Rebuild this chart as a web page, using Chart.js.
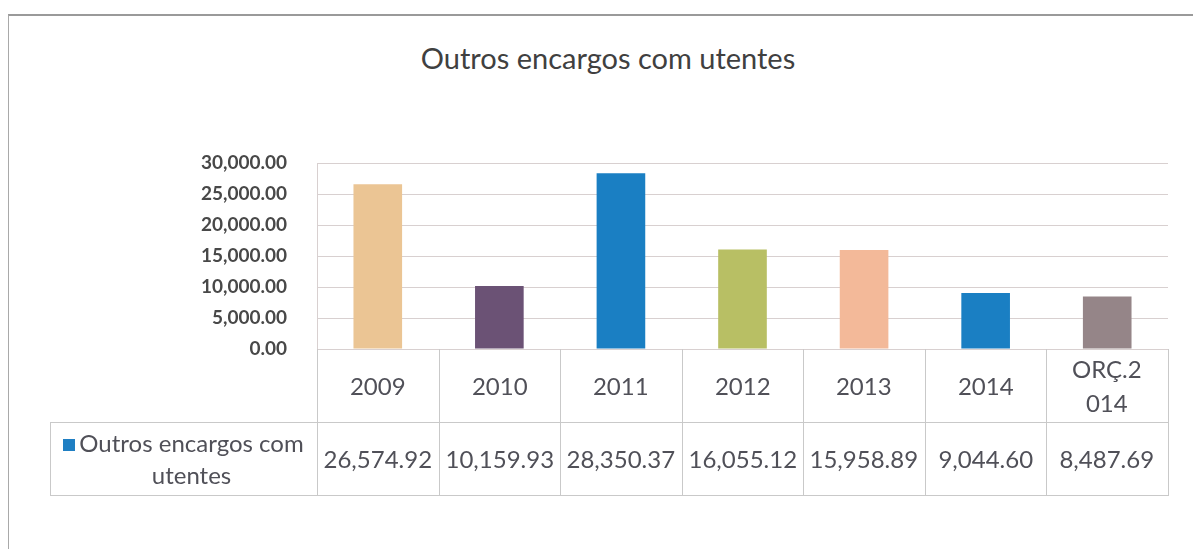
<!DOCTYPE html>
<html>
<head>
<meta charset="utf-8">
<script src="https://cdn.jsdelivr.net/npm/chart.js@4"></script>
<style>
  body { margin: 0; background: #fff; }
  #wrap { position: relative; width: 1193px; height: 549px; overflow: hidden; background: #fff; font-family: Lato, sans-serif; }
  #frame { position: absolute; left: 8px; top: 14px; right: -5px; bottom: -5px; border-left: 1px solid #a9a9a9; border-top: 2px solid #9a9a9a; }
  #title { position: absolute; left: 358px; width: 500px; top: 40px; text-align: center; font-size: 29px; color: #404040; }
  canvas { position: absolute; left: 0; top: 0; }
  .cell { position: absolute; box-sizing: border-box; display: flex; align-items: center; justify-content: center; text-align: center; color: #505058; font-size: 24px; }
  .line { position: absolute; background: #c9c9c9; }
</style>
</head>
<body>
<div id="wrap">
  <div id="frame"></div>
  <div id="title">Outros encargos com utentes</div>
  <canvas id="myChart" width="1193" height="549"></canvas>
</div>
<script>
const seriesName = 'Outros encargos com utentes';
const categories = ['2009', '2010', '2011', '2012', '2013', '2014', 'ORÇ.2014'];
const categoryLines = [['2009'], ['2010'], ['2011'], ['2012'], ['2013'], ['2014'], ['ORÇ.2', '014']];
const values = [26574.92, 10159.93, 28350.37, 16055.12, 15958.89, 9044.60, 8487.69];
const barColors = ['#ebc594', '#6b5275', '#1a7fc3', '#b8bf64', '#f3b999', '#1a7fc3', '#958588'];
const yTicks = [0, 5000, 10000, 15000, 20000, 25000, 30000];

const fmt = v => v.toLocaleString('en-US', { minimumFractionDigits: 2, maximumFractionDigits: 2 });

const ctx = document.getElementById('myChart');
const chart = new Chart(ctx, {
    type: 'bar',
    data: {
        labels: categories,
        datasets: [{
            label: seriesName,
            data: values,
            backgroundColor: barColors,
            borderWidth: 0,
            categoryPercentage: 1,
            barPercentage: 0.4
        }]
    },
    options: {
        responsive: false,
        animation: false,
        layout: { padding: { left: 0, right: 25, top: 163, bottom: 200 } },
        plugins: { legend: { display: false }, title: { display: false }, tooltip: { enabled: false } },
        scales: {
            x: { display: false },
            y: {
                min: 0,
                max: 30000,
                afterFit: s => { s.width = 317; },
                afterBuildTicks: s => { s.ticks = yTicks.map(v => ({ value: v })); },
                grid: { color: '#d8d0d0', drawTicks: false },
                border: { color: '#d8d0d0' },
                ticks: {
                    padding: 30,
                    color: '#484848',
                    font: { family: 'Lato', size: 19, weight: 'bold' },
                    callback: v => fmt(v)
                }
            }
        }
    }
});

// data table under the plot, columns taken from the x scale
const wrap = document.getElementById('wrap');
const xs = chart.scales.x;
const area = chart.chartArea;
const colW = (xs.right - xs.left) / categories.length;
const rowTop = area.bottom, rowMid = rowTop + 73, rowBot = rowMid + 73;
const legLeft = 50;

function addLine(x, y, w, h) {
    const d = document.createElement('div');
    d.className = 'line';
    d.style.left = x + 'px'; d.style.top = y + 'px';
    d.style.width = w + 'px'; d.style.height = h + 'px';
    wrap.appendChild(d);
}
function addCell(x, y, w, h, html, extra) {
    const d = document.createElement('div');
    d.className = 'cell';
    d.style.left = x + 'px'; d.style.top = y + 'px';
    d.style.width = w + 'px'; d.style.height = h + 'px';
    d.innerHTML = html;
    if (extra) Object.assign(d.style, extra);
    wrap.appendChild(d);
}

categories.forEach((c, i) => {
    const cx = xs.getPixelForValue(i);
    const x0 = Math.round(cx - colW / 2);
    addCell(x0, rowTop, colW, rowMid - rowTop, categoryLines[i].join('<br>'), { lineHeight: '34px' });
    addCell(x0, rowMid, colW, rowBot - rowMid, fmt(values[i]));
});

// grid of the table
for (let i = 0; i <= categories.length; i++) {
    const x = Math.round(xs.left + i * colW);
    addLine(x, rowTop, 1, rowBot - rowTop);
}
addLine(legLeft, rowMid, xs.right - legLeft, 1);
addLine(legLeft, rowBot, xs.right - legLeft + 1, 1);
addLine(legLeft, rowMid, 1, rowBot - rowMid);

// legend key in the first column
addCell(legLeft, rowMid, xs.left - legLeft, rowBot - rowMid,
    '<span style="display:inline-block;width:12px;height:12px;background:#1f7fc3;margin-right:4px;vertical-align:middle;position:relative;top:-14px"></span>' +
    '<span style="display:inline-block;line-height:32px">Outros encargos com<br>utentes</span>');
</script>
</body>
</html>
